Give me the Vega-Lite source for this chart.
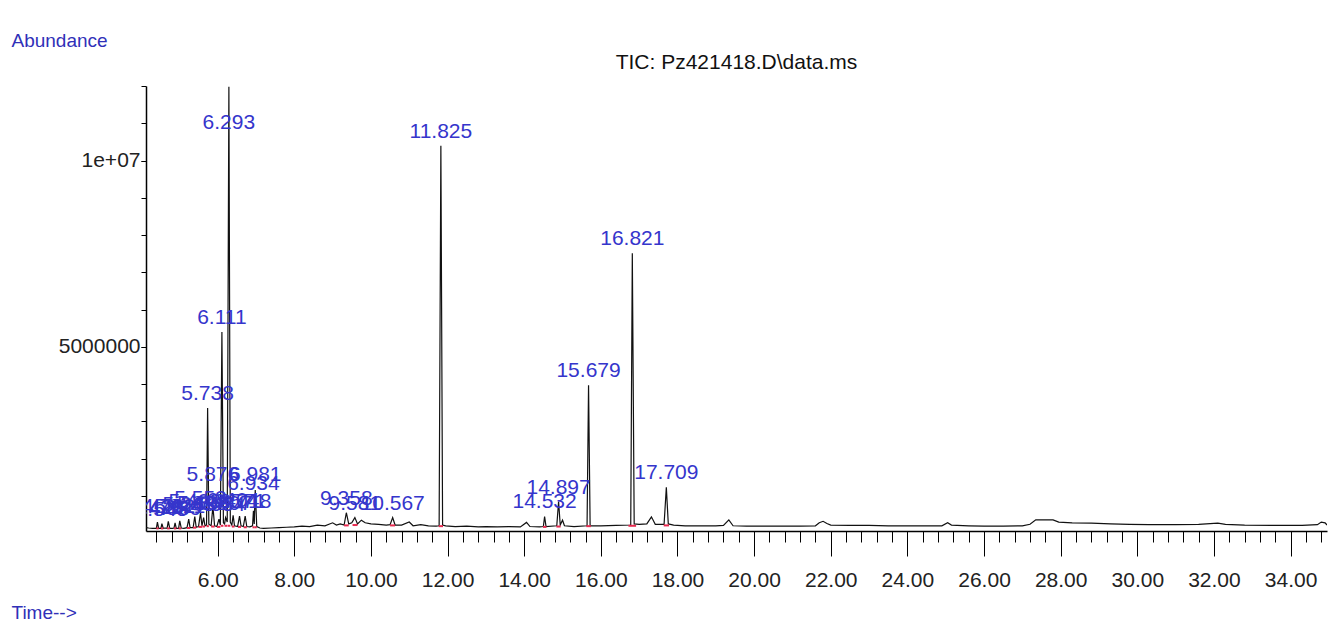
{
  "$schema": "https://vega.github.io/schema/vega-lite/v6.json",
  "width": 1181,
  "height": 445,
  "autosize": {"type": "none"},
  "padding": {"left": 146, "top": 86, "right": 16, "bottom": 108},
  "background": "white",
  "config": {"view": {"stroke": null}, "font": "'Liberation Sans', Arial, sans-serif"},
  "title": {"text": "TIC: Pz421418.D\\data.ms", "anchor": "middle", "frame": "group", "fontSize": 21, "fontWeight": "normal", "color": "#111111", "offset": 9, "dy": 51},
  "datasets": {
    "trace": [
      {"time": 4.13, "abundance": 150000}, {"time": 4.2, "abundance": 140000}, {"time": 4.3, "abundance": 130000}, {"time": 4.4, "abundance": 130000},
      {"time": 4.428, "abundance": 300000}, {"time": 4.46, "abundance": 130000}, {"time": 4.52, "abundance": 130000}, {"time": 4.545, "abundance": 260000},
      {"time": 4.58, "abundance": 130000}, {"time": 4.63, "abundance": 140000}, {"time": 4.68, "abundance": 130000}, {"time": 4.712, "abundance": 320000},
      {"time": 4.75, "abundance": 130000}, {"time": 4.82, "abundance": 130000}, {"time": 4.86, "abundance": 140000}, {"time": 4.889, "abundance": 280000},
      {"time": 4.92, "abundance": 130000}, {"time": 4.98, "abundance": 130000}, {"time": 5.011, "abundance": 330000}, {"time": 5.05, "abundance": 140000},
      {"time": 5.12, "abundance": 130000}, {"time": 5.2, "abundance": 150000}, {"time": 5.245, "abundance": 380000}, {"time": 5.28, "abundance": 150000},
      {"time": 5.36, "abundance": 150000}, {"time": 5.403, "abundance": 450000}, {"time": 5.44, "abundance": 160000}, {"time": 5.5, "abundance": 180000},
      {"time": 5.553, "abundance": 550000}, {"time": 5.59, "abundance": 200000}, {"time": 5.634, "abundance": 420000}, {"time": 5.67, "abundance": 200000},
      {"time": 5.71, "abundance": 220000}, {"time": 5.738, "abundance": 3360000}, {"time": 5.77, "abundance": 240000}, {"time": 5.83, "abundance": 200000},
      {"time": 5.876, "abundance": 720000}, {"time": 5.92, "abundance": 200000}, {"time": 5.98, "abundance": 180000}, {"time": 6.034, "abundance": 380000},
      {"time": 6.07, "abundance": 220000}, {"time": 6.111, "abundance": 5400000}, {"time": 6.15, "abundance": 280000}, {"time": 6.18, "abundance": 250000},
      {"time": 6.207, "abundance": 420000}, {"time": 6.25, "abundance": 300000}, {"time": 6.293, "abundance": 11980000}, {"time": 6.33, "abundance": 300000},
      {"time": 6.37, "abundance": 220000}, {"time": 6.404, "abundance": 480000}, {"time": 6.44, "abundance": 200000}, {"time": 6.52, "abundance": 180000},
      {"time": 6.571, "abundance": 460000}, {"time": 6.61, "abundance": 200000}, {"time": 6.67, "abundance": 180000}, {"time": 6.718, "abundance": 460000},
      {"time": 6.76, "abundance": 180000}, {"time": 6.84, "abundance": 170000}, {"time": 6.91, "abundance": 200000}, {"time": 6.934, "abundance": 600000},
      {"time": 6.955, "abundance": 250000}, {"time": 6.981, "abundance": 1160000}, {"time": 7.02, "abundance": 180000}, {"time": 7.1, "abundance": 140000},
      {"time": 7.2, "abundance": 130000}, {"time": 7.4, "abundance": 140000}, {"time": 7.6, "abundance": 150000}, {"time": 7.8, "abundance": 160000},
      {"time": 8.0, "abundance": 170000}, {"time": 8.2, "abundance": 190000}, {"time": 8.4, "abundance": 180000}, {"time": 8.6, "abundance": 220000},
      {"time": 8.8, "abundance": 200000}, {"time": 9.0, "abundance": 280000}, {"time": 9.1, "abundance": 220000}, {"time": 9.2, "abundance": 250000},
      {"time": 9.3, "abundance": 220000}, {"time": 9.358, "abundance": 550000}, {"time": 9.42, "abundance": 250000}, {"time": 9.5, "abundance": 280000},
      {"time": 9.581, "abundance": 420000}, {"time": 9.65, "abundance": 250000}, {"time": 9.75, "abundance": 350000}, {"time": 9.85, "abundance": 280000},
      {"time": 10.0, "abundance": 250000}, {"time": 10.2, "abundance": 240000}, {"time": 10.4, "abundance": 220000}, {"time": 10.5, "abundance": 230000},
      {"time": 10.567, "abundance": 420000}, {"time": 10.63, "abundance": 220000}, {"time": 10.8, "abundance": 220000}, {"time": 11.0, "abundance": 300000},
      {"time": 11.1, "abundance": 200000}, {"time": 11.3, "abundance": 230000}, {"time": 11.5, "abundance": 200000}, {"time": 11.7, "abundance": 190000},
      {"time": 11.78, "abundance": 200000}, {"time": 11.825, "abundance": 10400000}, {"time": 11.87, "abundance": 220000}, {"time": 11.95, "abundance": 200000},
      {"time": 12.2, "abundance": 180000}, {"time": 12.5, "abundance": 190000}, {"time": 12.8, "abundance": 170000}, {"time": 13.0, "abundance": 180000},
      {"time": 13.3, "abundance": 170000}, {"time": 13.6, "abundance": 180000}, {"time": 13.9, "abundance": 170000}, {"time": 14.06, "abundance": 290000},
      {"time": 14.15, "abundance": 180000}, {"time": 14.4, "abundance": 170000}, {"time": 14.5, "abundance": 180000}, {"time": 14.532, "abundance": 450000},
      {"time": 14.57, "abundance": 180000}, {"time": 14.85, "abundance": 200000}, {"time": 14.897, "abundance": 850000}, {"time": 14.94, "abundance": 220000},
      {"time": 15.0, "abundance": 350000}, {"time": 15.05, "abundance": 200000}, {"time": 15.3, "abundance": 180000}, {"time": 15.64, "abundance": 200000},
      {"time": 15.679, "abundance": 3970000}, {"time": 15.72, "abundance": 200000}, {"time": 16.0, "abundance": 200000}, {"time": 16.4, "abundance": 210000},
      {"time": 16.78, "abundance": 220000}, {"time": 16.821, "abundance": 7510000}, {"time": 16.87, "abundance": 250000}, {"time": 17.0, "abundance": 240000},
      {"time": 17.2, "abundance": 250000}, {"time": 17.32, "abundance": 440000}, {"time": 17.42, "abundance": 240000}, {"time": 17.65, "abundance": 240000},
      {"time": 17.709, "abundance": 1230000}, {"time": 17.76, "abundance": 250000}, {"time": 17.9, "abundance": 220000}, {"time": 18.2, "abundance": 200000},
      {"time": 18.6, "abundance": 200000}, {"time": 19.0, "abundance": 200000}, {"time": 19.2, "abundance": 210000}, {"time": 19.34, "abundance": 360000},
      {"time": 19.45, "abundance": 200000}, {"time": 19.8, "abundance": 190000}, {"time": 20.5, "abundance": 190000}, {"time": 21.2, "abundance": 190000},
      {"time": 21.6, "abundance": 200000}, {"time": 21.7, "abundance": 280000}, {"time": 21.8, "abundance": 320000}, {"time": 21.9, "abundance": 260000},
      {"time": 22.0, "abundance": 220000}, {"time": 22.5, "abundance": 210000}, {"time": 23.0, "abundance": 210000}, {"time": 23.5, "abundance": 200000},
      {"time": 24.0, "abundance": 200000}, {"time": 24.5, "abundance": 200000}, {"time": 24.9, "abundance": 200000}, {"time": 25.05, "abundance": 280000},
      {"time": 25.15, "abundance": 220000}, {"time": 25.6, "abundance": 200000}, {"time": 26.0, "abundance": 190000}, {"time": 26.5, "abundance": 190000},
      {"time": 27.0, "abundance": 200000}, {"time": 27.2, "abundance": 240000}, {"time": 27.35, "abundance": 360000}, {"time": 27.8, "abundance": 360000},
      {"time": 27.95, "abundance": 300000}, {"time": 28.3, "abundance": 280000}, {"time": 28.8, "abundance": 270000}, {"time": 29.3, "abundance": 250000},
      {"time": 29.8, "abundance": 240000}, {"time": 30.3, "abundance": 230000}, {"time": 31.0, "abundance": 230000}, {"time": 31.6, "abundance": 240000},
      {"time": 32.1, "abundance": 270000}, {"time": 32.3, "abundance": 240000}, {"time": 32.8, "abundance": 220000}, {"time": 33.5, "abundance": 210000},
      {"time": 34.3, "abundance": 210000}, {"time": 34.7, "abundance": 230000}, {"time": 34.8, "abundance": 300000}, {"time": 34.9, "abundance": 280000},
      {"time": 34.95, "abundance": 220000}
    ],
    "peaks": [
      {"rt": 4.428, "label": "4.428", "labelAbundance": 300000, "start": 4.40, "end": 4.46, "base": 130000},
      {"rt": 4.545, "label": "4.545", "labelAbundance": 260000, "start": 4.52, "end": 4.58, "base": 130000},
      {"rt": 4.712, "label": "4.712", "labelAbundance": 320000, "start": 4.68, "end": 4.75, "base": 130000},
      {"rt": 4.889, "label": "4.889", "labelAbundance": 280000, "start": 4.86, "end": 4.92, "base": 130000},
      {"rt": 5.011, "label": "5.011", "labelAbundance": 330000, "start": 4.98, "end": 5.05, "base": 130000},
      {"rt": 5.245, "label": "5.245", "labelAbundance": 380000, "start": 5.2, "end": 5.28, "base": 140000},
      {"rt": 5.403, "label": "5.403", "labelAbundance": 450000, "start": 5.36, "end": 5.44, "base": 150000},
      {"rt": 5.553, "label": "5.553", "labelAbundance": 550000, "start": 5.5, "end": 5.59, "base": 170000},
      {"rt": 5.634, "label": "5.634", "labelAbundance": 420000, "start": 5.6, "end": 5.67, "base": 180000},
      {"rt": 5.738, "label": "5.738", "labelAbundance": 3360000, "start": 5.71, "end": 5.77, "base": 190000},
      {"rt": 5.876, "label": "5.876", "labelAbundance": 1200000, "start": 5.83, "end": 5.92, "base": 180000},
      {"rt": 6.034, "label": "6.034", "labelAbundance": 380000, "start": 5.98, "end": 6.07, "base": 170000},
      {"rt": 6.111, "label": "6.111", "labelAbundance": 5400000, "start": 6.08, "end": 6.15, "base": 200000},
      {"rt": 6.207, "label": "6.207", "labelAbundance": 420000, "start": 6.18, "end": 6.25, "base": 200000},
      {"rt": 6.293, "label": "6.293", "labelAbundance": 10640000, "start": 6.26, "end": 6.33, "base": 200000},
      {"rt": 6.404, "label": "6.404", "labelAbundance": 480000, "start": 6.37, "end": 6.44, "base": 180000},
      {"rt": 6.571, "label": "6.571", "labelAbundance": 460000, "start": 6.53, "end": 6.61, "base": 170000},
      {"rt": 6.718, "label": "6.718", "labelAbundance": 460000, "start": 6.68, "end": 6.76, "base": 160000},
      {"rt": 6.934, "label": "6.934", "labelAbundance": 950000, "start": 6.91, "end": 6.955, "base": 160000},
      {"rt": 6.981, "label": "6.981", "labelAbundance": 1200000, "start": 6.955, "end": 7.02, "base": 160000},
      {"rt": 9.358, "label": "9.358", "labelAbundance": 550000, "start": 9.3, "end": 9.42, "base": 210000},
      {"rt": 9.581, "label": "9.581", "labelAbundance": 420000, "start": 9.52, "end": 9.65, "base": 220000},
      {"rt": 10.567, "label": "10.567", "labelAbundance": 420000, "start": 10.5, "end": 10.63, "base": 210000},
      {"rt": 11.825, "label": "11.825", "labelAbundance": 10400000, "start": 11.77, "end": 11.88, "base": 190000},
      {"rt": 14.532, "label": "14.532", "labelAbundance": 450000, "start": 14.49, "end": 14.58, "base": 170000},
      {"rt": 14.897, "label": "14.897", "labelAbundance": 850000, "start": 14.84, "end": 14.95, "base": 180000},
      {"rt": 15.679, "label": "15.679", "labelAbundance": 3970000, "start": 15.62, "end": 15.74, "base": 190000},
      {"rt": 16.821, "label": "16.821", "labelAbundance": 7510000, "start": 16.72, "end": 16.92, "base": 200000},
      {"rt": 17.709, "label": "17.709", "labelAbundance": 1230000, "start": 17.64, "end": 17.78, "base": 210000}
    ]
  },
  "layer": [
    {
      "data": {"name": "trace"},
      "mark": {"type": "line", "color": "#111111", "strokeWidth": 1.2, "clip": true},
      "encoding": {
        "x": {
          "field": "time", "type": "quantitative",
          "scale": {"domain": [4.13, 34.95], "nice": false, "zero": false},
          "axis": {
            "orient": "bottom", "values": [6, 8, 10, 12, 14, 16, 18, 20, 22, 24, 26, 28, 30, 32, 34],
            "format": ".2f", "tickSize": 25, "tickColor": "#000000", "domainColor": "#000000", "domainWidth": 1.5,
            "labelFontSize": 21, "labelColor": "#222222", "labelPadding": 13, "grid": false,
            "title": "Time-->", "titleX": -135, "titleY": 81, "titleAlign": "left", "titleBaseline": "middle",
            "titleFontSize": 19, "titleColor": "#3030b8", "titleFontWeight": "normal"
          }
        },
        "y": {
          "field": "abundance", "type": "quantitative",
          "scale": {"domain": [60000, 12000000], "nice": false, "zero": false},
          "axis": {
            "orient": "left", "values": [5000000, 10000000],
            "labelExpr": "datum.value == 10000000 ? '1e+07' : '5000000'",
            "tickSize": 5, "tickColor": "#000000", "domainColor": "#000000", "domainWidth": 1.5,
            "labelFontSize": 21, "labelColor": "#222222", "labelPadding": 1, "grid": false,
            "title": "Abundance", "titleAngle": 0, "titleX": -135, "titleY": -46, "titleAlign": "left", "titleBaseline": "middle",
            "titleFontSize": 19, "titleColor": "#3030b8", "titleFontWeight": "normal"
          }
        }
      }
    },
    {
      "data": {"name": "peaks"},
      "mark": {"type": "rule", "color": "#e8294f", "strokeWidth": 2, "clip": true},
      "encoding": {
        "x": {
          "field": "start", "type": "quantitative",
          "scale": {"domain": [4.13, 34.95], "nice": false, "zero": false},
          "axis": {
            "orient": "bottom", "labels": false, "domain": false, "grid": false, "title": null, "tickSize": 11, "tickColor": "#000000",
            "values": [4.4, 4.8, 5.2, 5.6, 6.0, 6.4, 6.8, 7.2, 7.6, 8.0, 8.4, 8.8, 9.2, 9.6, 10.0, 10.4, 10.8, 11.2, 11.6, 12.0, 12.4, 12.8, 13.2, 13.6, 14.0, 14.4, 14.8, 15.2, 15.6, 16.0, 16.4, 16.8, 17.2, 17.6, 18.0, 18.4, 18.8, 19.2, 19.6, 20.0, 20.4, 20.8, 21.2, 21.6, 22.0, 22.4, 22.8, 23.2, 23.6, 24.0, 24.4, 24.8, 25.2, 25.6, 26.0, 26.4, 26.8, 27.2, 27.6, 28.0, 28.4, 28.8, 29.2, 29.6, 30.0, 30.4, 30.8, 31.2, 31.6, 32.0, 32.4, 32.8, 33.2, 33.6, 34.0, 34.4, 34.8]
          }
        },
        "x2": {"field": "end"},
        "y": {
          "field": "base", "type": "quantitative",
          "scale": {"domain": [60000, 12000000], "nice": false, "zero": false},
          "axis": {
            "orient": "left", "labels": false, "domain": false, "grid": false, "title": null, "tickSize": 5, "tickColor": "#000000",
            "values": [1000000, 2000000, 3000000, 4000000, 5000000, 6000000, 7000000, 8000000, 9000000, 10000000, 11000000, 12000000]
          }
        }
      }
    },
    {
      "data": {"name": "peaks"},
      "mark": {"type": "text", "color": "#3535cc", "fontSize": 21, "dy": -8, "baseline": "alphabetic", "align": "center", "clip": true},
      "encoding": {
        "x": {"field": "rt", "type": "quantitative", "scale": {"domain": [4.13, 34.95], "nice": false, "zero": false}, "axis": null},
        "y": {"field": "labelAbundance", "type": "quantitative", "scale": {"domain": [60000, 12000000], "nice": false, "zero": false}, "axis": null},
        "text": {"field": "label"}
      }
    }
  ],
  "resolve": {"axis": {"x": "independent", "y": "independent"}}
}
